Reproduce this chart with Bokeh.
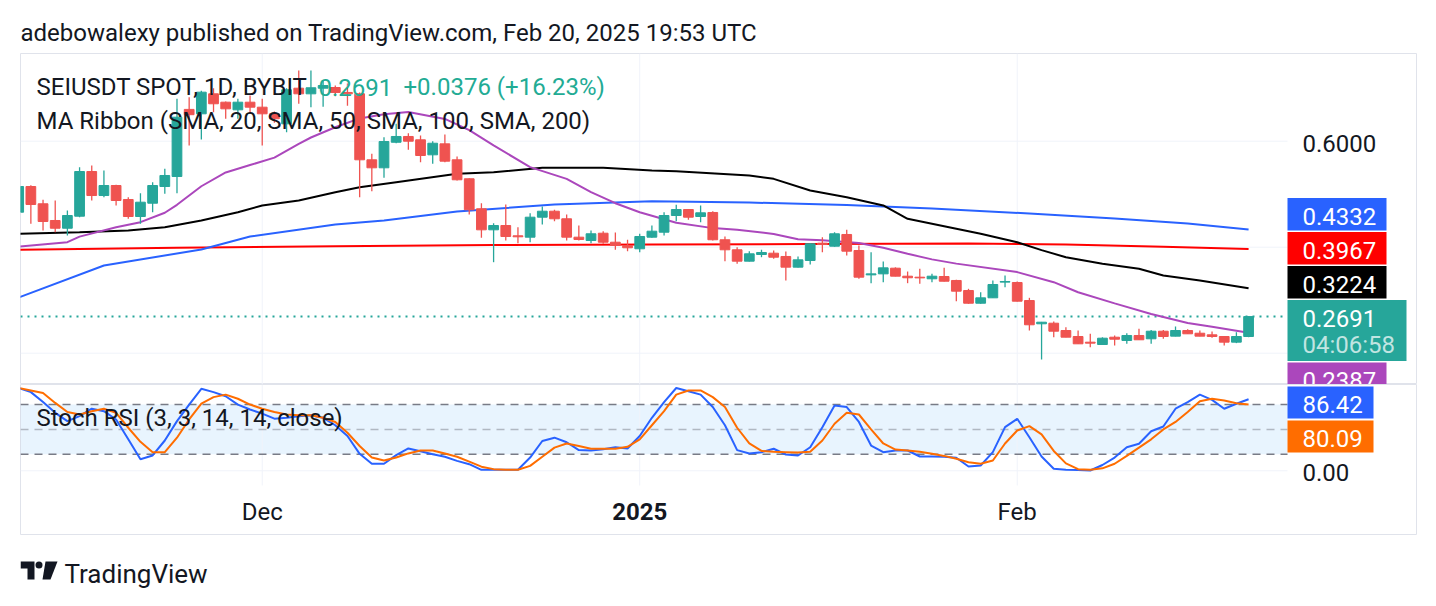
import pandas as pd
from bokeh.plotting import figure
from bokeh.layouts import column
from bokeh.models import Range1d, Label, ColumnDataSource
from bokeh.core.properties import value
from bokeh.embed import file_html
from bokeh.resources import INLINE

# ---------------- texts ----------------
header = "adebowalexy published on TradingView.com, Feb 20, 2025 19:53 UTC"
symbol_title = "SEIUSDT SPOT, 1D, BYBIT"
legend_last = "0.2691"
legend_change = "+0.0376 (+16.23%)"
ribbon_title = "MA Ribbon (SMA, 20, SMA, 50, SMA, 100, SMA, 200)"
stoch_title = "Stoch RSI (3, 3, 14, 14, close)"
countdown = "04:06:58"
brand = "TradingView"

# ---------------- data ----------------
start_date = "2024-11-11"
opens = [
    0.4660, 0.5145, 0.4819, 0.4504, 0.4358, 0.4585, 0.5428, 0.4975, 0.5164, 0.4900,
    0.4579, 0.4830, 0.5145, 0.5334, 0.6600, 0.6517, 0.6894, 0.6736, 0.6592, 0.6736,
    0.6642, 0.6517, 0.6328, 0.7000, 0.6894, 0.7000, 0.7013, 0.6920, 0.6894, 0.5649,
    0.5498, 0.5980, 0.6089, 0.6026, 0.5743, 0.5950, 0.5649, 0.5291, 0.4725, 0.4328,
    0.4409, 0.4215, 0.4189, 0.4566, 0.4679, 0.4536, 0.4189, 0.4126, 0.4264, 0.4094,
    0.4032, 0.3970, 0.4189, 0.4283, 0.4598, 0.4711, 0.4579, 0.4655, 0.4140, 0.3951,
    0.3736, 0.3862, 0.3887, 0.3825, 0.3623, 0.3749, 0.4075, 0.4019, 0.4240, 0.3938,
    0.3478, 0.3497, 0.3604, 0.3453, 0.3434, 0.3404, 0.3447, 0.3372, 0.3183, 0.2943,
    0.3045, 0.3341, 0.3334, 0.2994, 0.2555, 0.2566, 0.2428, 0.2315, 0.2208, 0.2164,
    0.2302, 0.2240, 0.2334, 0.2272, 0.2415, 0.2321, 0.2428, 0.2377, 0.2347, 0.2315,
    0.2208, 0.2315]
highs = [
    0.5180, 0.5170, 0.4894, 0.4881, 0.4692, 0.5509, 0.5542, 0.5447, 0.5180, 0.4943,
    0.5019, 0.5226, 0.5479, 0.6800, 0.6830, 0.6950, 0.7000, 0.6750, 0.6800, 0.6862,
    0.6800, 0.6560, 0.7000, 0.7334, 0.7334, 0.7150, 0.7050, 0.7090, 0.6920, 0.5762,
    0.6075, 0.6328, 0.6151, 0.6108, 0.6000, 0.6126, 0.5711, 0.5300, 0.4830, 0.4453,
    0.4806, 0.4377, 0.4642, 0.4768, 0.4705, 0.4617, 0.4409, 0.4315, 0.4302, 0.4277,
    0.4140, 0.4253, 0.4409, 0.4660, 0.4800, 0.4720, 0.4787, 0.4679, 0.4202, 0.4000,
    0.3925, 0.3951, 0.3937, 0.3919, 0.3825, 0.4075, 0.4189, 0.4283, 0.4328, 0.4032,
    0.3906, 0.3730, 0.3620, 0.3541, 0.3592, 0.3498, 0.3611, 0.3385, 0.3215, 0.3151,
    0.3372, 0.3466, 0.3353, 0.3045, 0.2590, 0.2598, 0.2491, 0.2428, 0.2366, 0.2300,
    0.2334, 0.2377, 0.2460, 0.2440, 0.2440, 0.2504, 0.2450, 0.2428, 0.2409, 0.2318,
    0.2396, 0.2691]
lows = [
    0.4620, 0.4441, 0.4315, 0.4283, 0.4220, 0.4566, 0.4881, 0.4943, 0.4787, 0.4536,
    0.4441, 0.4660, 0.5008, 0.5019, 0.5919, 0.6032, 0.6547, 0.6423, 0.6423, 0.6547,
    0.5919, 0.6350, 0.6170, 0.6706, 0.6642, 0.6650, 0.6850, 0.6670, 0.4943, 0.5057,
    0.5309, 0.5960, 0.5838, 0.5604, 0.5574, 0.5604, 0.5258, 0.4617, 0.4177, 0.3717,
    0.4126, 0.4075, 0.4094, 0.4428, 0.4491, 0.4126, 0.4126, 0.4075, 0.4064, 0.3951,
    0.3925, 0.3906, 0.4180, 0.4220, 0.4491, 0.4517, 0.4472, 0.4126, 0.3736, 0.3687,
    0.3730, 0.3811, 0.3781, 0.3372, 0.3615, 0.3674, 0.3906, 0.4010, 0.3843, 0.3404,
    0.3321, 0.3340, 0.3450, 0.3321, 0.3309, 0.3340, 0.3355, 0.2981, 0.2932, 0.2932,
    0.3040, 0.3245, 0.2975, 0.2428, 0.1881, 0.2302, 0.2300, 0.2175, 0.2113, 0.2160,
    0.2145, 0.2177, 0.2250, 0.2177, 0.2272, 0.2318, 0.2363, 0.2318, 0.2290, 0.2145,
    0.2190, 0.2302]
closes = [
    0.5145, 0.4806, 0.4485, 0.4358, 0.4598, 0.5428, 0.4975, 0.5164, 0.4881, 0.4579,
    0.4849, 0.5164, 0.5353, 0.6453, 0.6500, 0.6925, 0.6706, 0.6611, 0.6736, 0.6642,
    0.6517, 0.6423, 0.6970, 0.6894, 0.7008, 0.7050, 0.6920, 0.6894, 0.5649, 0.5498,
    0.5994, 0.6089, 0.6000, 0.5730, 0.5962, 0.5623, 0.5272, 0.4706, 0.4328, 0.4409,
    0.4202, 0.4196, 0.4566, 0.4679, 0.4536, 0.4189, 0.4145, 0.4253, 0.4094, 0.4032,
    0.3989, 0.4202, 0.4302, 0.4598, 0.4711, 0.4566, 0.4649, 0.4140, 0.3951, 0.3736,
    0.3875, 0.3900, 0.3811, 0.3623, 0.3762, 0.4064, 0.4050, 0.4253, 0.3925, 0.3434,
    0.3497, 0.3611, 0.3453, 0.3423, 0.3421, 0.3453, 0.3358, 0.3170, 0.2943, 0.3045,
    0.3296, 0.3353, 0.2981, 0.2536, 0.2585, 0.2415, 0.2302, 0.2177, 0.2189, 0.2283,
    0.2264, 0.2334, 0.2253, 0.2415, 0.2315, 0.2428, 0.2366, 0.2321, 0.2315, 0.2208,
    0.2315, 0.2691]

sma20_days = [0, 4, 5, 8, 10, 12, 13, 15, 17, 19, 21, 23, 24, 26, 28, 30, 32, 35, 37, 39,
              42, 45, 47, 49, 51, 54, 57, 59, 62, 64, 66, 69, 71, 73, 75, 77, 82, 85, 87, 90,
              93, 96, 98, 101]
sma20 = [0.4013, 0.4094, 0.4200, 0.4377, 0.4472, 0.4650, 0.4800, 0.5150, 0.5410, 0.5550,
         0.5690, 0.5950, 0.6070, 0.6264, 0.6430, 0.6510, 0.6550, 0.6420, 0.6210, 0.5920,
         0.5510, 0.5290, 0.5040, 0.4830, 0.4660, 0.4460, 0.4360, 0.4330, 0.4250, 0.4150,
         0.4130, 0.4080, 0.3990, 0.3875, 0.3770, 0.3690, 0.3530, 0.3340, 0.3150, 0.2940,
         0.2740, 0.2570, 0.2500, 0.2387]
sma50_days = [0, 5, 9, 12, 15, 18, 20, 23, 26, 28, 31, 36, 39, 43, 48, 52, 54, 60, 62, 65,
              68, 71, 73, 77, 79, 82, 84, 86, 89, 92, 94, 97, 101]
sma50 = [0.4253, 0.4283, 0.4315, 0.4377, 0.4504, 0.4660, 0.4787, 0.4881, 0.5038, 0.5132,
         0.5226, 0.5385, 0.5415, 0.5498, 0.5498, 0.5447, 0.5434, 0.5353, 0.5290, 0.5070,
         0.4943, 0.4787, 0.4536, 0.4347, 0.4253, 0.4094, 0.3945, 0.3811, 0.3687, 0.3592,
         0.3466, 0.3372, 0.3224]
sma100_days = [0, 7, 15, 19, 26, 30, 36, 44, 52, 60, 68, 75, 83, 90, 96, 101]
sma100 = [0.3050, 0.3655, 0.3957, 0.4202, 0.4428, 0.4504, 0.4674, 0.4806, 0.4868, 0.4843,
          0.4796, 0.4730, 0.4636, 0.4542, 0.4447, 0.4332]
sma200_days = [0, 13, 26, 39, 52, 65, 78, 86, 94, 101]
sma200 = [0.3950, 0.3990, 0.4020, 0.4040, 0.4050, 0.4060, 0.4070, 0.4050, 0.4010, 0.3967]

# Stoch RSI
stoch_k = [100, 95, 83, 70, 60, 66, 75, 72, 62, 38,
           14, 18.5, 36.6, 60, 80, 99, 95, 90, 80, 74,
           69, 63, 64, 66, 67, 64, 55, 42, 20.5, 8.5,
           8.5, 19, 27, 23.5, 20, 17, 12, 8, 1.2, 1.2,
           1.2, 1.2, 16, 36, 40, 34.5, 25, 24.5, 26, 28.5,
           27, 42, 64, 83, 100, 96, 92, 77, 55, 25,
           21, 22.5, 26.6, 19.7, 18.5, 28.5, 52.7, 79, 77, 59,
           30.5, 22.5, 24.5, 24.5, 17.3, 17.3, 17, 15.7, 5.2, 6.4,
           22.5, 52.7, 62.8, 40.6, 17.3, 2.4, 1.2, 1.0, 0.4, 7,
           16, 28.5, 32.6, 47.8, 53.5, 75, 83, 92, 85.7, 75,
           81, 86.42]
stoch_d = [100, 97, 94, 82, 71, 68, 72, 75, 70, 52,
           35, 22.5, 22.5, 40, 62, 81, 89, 92, 87, 80,
           75, 71, 68, 67, 67, 64, 59, 46, 30, 16,
           12.4, 16, 21, 24.5, 24.5, 21, 17, 11, 5, 2,
           1.2, 1.2, 6, 17, 28, 33, 30, 26.6, 26.6, 26.6,
           29, 38, 55, 72, 92, 97, 97, 89, 77, 52,
           33, 24, 23, 22.5, 22, 23, 36.6, 56.8, 70, 68,
           50, 33, 25.7, 24.5, 23, 20.5, 18, 14.5, 10.4, 8.5,
           12.4, 33, 48.7, 54, 44, 24, 9, 2, 1.2, 3,
           8.5, 18, 28, 38, 50, 59, 71, 84, 87, 85,
           81.5, 80.09]
stoch_levels = [80, 50, 20]

price_ticks = [0.2, 0.4, 0.6]
stoch_ticks = [0]
month_dates = ["2024-12-01", "2025-01-01", "2025-02-01"]
month_labels = ["Dec", "2025", "Feb"]
month_styles = ["normal", "bold", "normal"]

# ---------------- style / layout ----------------
FONT = "Roboto"
FS = "24px"
TXT = "#131722"
UP, DOWN = "#26a69a", "#ef5350"
QUOTE = "#22ab94"
GRID = "#f0f3fa"
BORDER = "#e0e3eb"
C20, C50, C100, C200 = "#ab47bc", "#000000", "#2962ff", "#ff0000"
CK, CD = "#2962ff", "#ff6d00"

W = 1436
FL, FR = 20, 1416            # chart box, page px
PANE_R = 1287                # right edge of the panes
SCALE_X = 1302               # price-scale text start
A_TOP, A_BOT = 53, 384       # price pane
B_BOT = 535                  # bottom of chart box
PANE_B_BOT = 485             # bottom of the oscillator pane
PAGE_H = 605
LABEL_HALF = 12

dates = pd.date_range(start_date, periods=len(opens), freq="D")
day = list(range(len(opens)))
month_ticks = [int(dates.get_loc(pd.Timestamp(d))) for d in month_dates]

xr = Range1d(0.149, 114.79)
yA = Range1d(0.14094, 0.76547)
yB = Range1d(-78.14, 104.23)
FA = A_BOT - A_TOP
FB = B_BOT - A_BOT


def fx(px_):
    return xr.start + (px_ - FL) / (FR - FL) * (xr.end - xr.start)


def fy(py, rng, top, bot):
    return rng.end - (py - top) / (bot - top) * (rng.end - rng.start)


def up_px(v, rng, fh):          # data -> px above the frame bottom
    return (v - rng.start) / (rng.end - rng.start) * fh


def from_up(p, rng, fh):        # px above the frame bottom -> data
    return rng.start + p / fh * (rng.end - rng.start)


def new_fig(h, yr, top):
    p = figure(width=W, height=h, x_range=xr, y_range=yr, x_axis_location=None,
               y_axis_location=None, output_backend="svg", toolbar_location=None,
               min_border_left=FL, min_border_right=W - FR, min_border_top=top,
               min_border_bottom=0, background_fill_color="white",
               border_fill_color="white", outline_line_color=BORDER, outline_line_width=1)
    p.grid.visible = False
    return p


def screen_label(p, x, y, text, color=TXT):
    p.add_layout(Label(x=x, y=y, x_units="screen", y_units="screen", text=text,
                       text_font=FONT, text_font_size=FS, text_color=color,
                       text_baseline="middle", text_align="left"))


def stack(items, anchor=None, top_limit=None, gap=1.5):
    for it in items:
        it["p"] = it["v"]
    if anchor is not None:
        above = sorted([i for i in items if i is not anchor and i["v"] >= anchor["v"]],
                       key=lambda i: i["v"])
        below = sorted([i for i in items if i is not anchor and i["v"] < anchor["v"]],
                       key=lambda i: -i["v"])
        prev_top = anchor["p"] + anchor["a"]
        for it in above:
            if it["p"] - it["b"] < prev_top + gap:
                it["p"] = prev_top + gap + it["b"]
            prev_top = it["p"] + it["a"]
        prev_bot = anchor["p"] - anchor["b"]
    else:
        below = sorted(items, key=lambda i: -i["v"])
        prev_bot = top_limit + gap
    for it in below:
        if it["p"] + it["a"] > prev_bot - gap:
            it["p"] = prev_bot - gap - it["a"]
        prev_bot = it["p"] - it["b"]


def badges(p, items, rng, fh):
    p.quad(left=fx(PANE_R), right=[fx(PANE_R + it["w"]) for it in items],
           top=[from_up(it["p"] + it["a"], rng, fh) for it in items],
           bottom=[from_up(it["p"] - it["b"], rng, fh) for it in items],
           fill_color=[it["col"] for it in items], line_color=None)


def badge_texts(p, items, rng, fh):
    p.text(x=fx(SCALE_X), y=[from_up(it["p"], rng, fh) for it in items],
           text=[it["text"] for it in items], text_font=value(FONT), text_font_size=FS,
           text_color="white", text_baseline="middle", text_align="left", y_offset=2)


def scale_labels(p, ticks, fmt, items, rng, fh):
    # like the price scale: a tick label hidden by a badge is not shown
    shown = [t for t in ticks
             if not any(it["p"] - it["b"] - LABEL_HALF < up_px(t, rng, fh) < it["p"] + it["a"] + LABEL_HALF
                        for it in items)]
    p.text(x=fx(SCALE_X), y=shown, text=[fmt % t for t in shown],
           text_font=value(FONT), text_font_size=FS, text_color=TXT,
           text_baseline="middle", text_align="left", y_offset=2)


pane_x0, pane_x1 = xr.start, fx(PANE_R)

# ---------------- price pane ----------------
pA = new_fig(A_BOT, yA, A_TOP)
pA.title.text = header
pA.title.text_font = FONT
pA.title.text_font_size = FS
pA.title.text_font_style = "normal"
pA.title.text_color = TXT
pA.title.align = "left"
pA.title.standoff = 14

pitems = [dict(v=up_px(vals[-1], yA, FA), a=16.25, b=16.25, col=col,
               text=f"{vals[-1]:.4f}", w=99)
          for vals, col in [(sma100, C100), (sma200, C200), (sma50, C50), (sma20, C20)]]
panchor = dict(v=up_px(closes[-1], yA, FA), a=16.7, b=44.3, col=UP,
               text=f"{closes[-1]:.4f}", w=119)
stack(pitems + [panchor], anchor=panchor)

# grid
pA.segment(x0=pane_x0, y0=price_ticks, x1=pane_x1, y1=price_ticks, line_color=GRID, line_width=1)
pA.segment(x0=month_ticks, y0=yA.start, x1=month_ticks, y1=yA.end, line_color=GRID, line_width=1)
scale_labels(pA, price_ticks, "%.4f", pitems + [panchor], yA, FA)
# last price line
pA.segment(x0=pane_x0, y0=closes[-1], x1=pane_x1, y1=closes[-1], line_color=UP,
           line_width=2, line_dash="2 5")

src = ColumnDataSource(dict(
    x=day, h=highs, l=lows,
    top=[max(o, c) for o, c in zip(opens, closes)],
    bottom=[min(o, c) for o, c in zip(opens, closes)],
    color=[UP if c >= o else DOWN for o, c in zip(opens, closes)]))

pA.line(sma200_days, sma200, line_color=C200, line_width=2)
pA.line(sma100_days, sma100, line_color=C100, line_width=2)
pA.line(sma50_days, sma50, line_color=C50, line_width=2)
pA.line(sma20_days, sma20, line_color=C20, line_width=2)
pA.segment(x0="x", y0="h", x1="x", y1="l", line_color="color", line_width=1.3, source=src)
pA.vbar(x="x", width=0.8, top="top", bottom="bottom", fill_color="color",
        line_color="color", line_width=1, source=src)

screen_label(pA, 16, A_BOT - 86.5, symbol_title)
screen_label(pA, 298, A_BOT - 86.5, legend_last, color=QUOTE)
screen_label(pA, 383, A_BOT - 86.5, legend_change, color=QUOTE)
screen_label(pA, 16, A_BOT - 120.5, ribbon_title)

badges(pA, pitems + [panchor], yA, FA)
badge_texts(pA, pitems + [panchor], yA, FA)
pA.text(x=fx(SCALE_X), y=from_up(panchor["p"] - 26, yA, FA), text=[countdown],
        text_font=value(FONT), text_font_size=FS, text_color="white", text_alpha=0.72,
        text_baseline="middle", text_align="left", y_offset=2)

# ---------------- oscillator pane ----------------
pB = new_fig(FB, yB, 0)
pane_y0 = fy(PANE_B_BOT, yB, A_BOT, B_BOT)

sitems = [dict(v=up_px(stoch_k[-1], yB, FB), a=16, b=16, col=CK, text=f"{stoch_k[-1]:.2f}", w=86),
          dict(v=up_px(stoch_d[-1], yB, FB), a=16, b=16, col=CD, text=f"{stoch_d[-1]:.2f}", w=86)]
stack(sitems, top_limit=FB - 2, gap=2)

pB.quad(left=pane_x0, right=pane_x1, bottom=stoch_levels[2], top=stoch_levels[0],
        fill_color="#2196f3", fill_alpha=0.1, line_color=None)
pB.segment(x0=pane_x0, y0=stoch_ticks, x1=pane_x1, y1=stoch_ticks, line_color=GRID, line_width=1)
pB.segment(x0=month_ticks, y0=pane_y0, x1=month_ticks, y1=yB.end, line_color=GRID, line_width=1)
for lv in stoch_levels:
    pB.segment(x0=pane_x0, y0=lv, x1=pane_x1, y1=lv, line_color="#787b86",
               line_alpha=0.5 if lv == 50 else 1.0, line_width=1.5, line_dash="8 6")
scale_labels(pB, stoch_ticks, "%.2f", sitems, yB, FB)
tsrc = ColumnDataSource(dict(x=month_ticks, y=[fy(509, yB, A_BOT, B_BOT)] * len(month_ticks),
                             text=month_labels, style=month_styles))
pB.text(x="x", y="y", text="text", text_font_style="style", source=tsrc,
        text_font=value(FONT), text_font_size=FS, text_color=TXT,
        text_baseline="middle", text_align="center", y_offset=2)

pB.line(day, stoch_k, line_color=CK, line_width=2)
pB.line(day, stoch_d, line_color=CD, line_width=2)
screen_label(pB, 16, B_BOT - 417.5, stoch_title)

badges(pB, sitems, yB, FB)
badge_texts(pB, sitems, yB, FB)

# ---------------- footer ----------------
pC = figure(width=W, height=PAGE_H - B_BOT, x_range=Range1d(FL, FR),
            y_range=Range1d(PAGE_H, B_BOT), x_axis_location=None, y_axis_location=None,
            output_backend="svg", toolbar_location=None, min_border_left=FL,
            min_border_right=W - FR, min_border_top=0, min_border_bottom=0,
            outline_line_color=None, background_fill_color="white", border_fill_color="white")
pC.grid.visible = False
logo_xs = [[20, 34, 34, 27, 27, 20], [45, 57, 50, 42]]
logo_ys = [[561, 561, 579, 579, 568, 568], [561, 561, 579, 579]]
pC.patches(logo_xs, logo_ys, fill_color=TXT, line_color=None)
pC.scatter(x=[38.5], y=[564.5], size=7, fill_color=TXT, line_color=None)
pC.text(x=[64], y=[571], text=[brand], text_font=value(FONT), text_font_size="26px",
        text_color=TXT, text_baseline="middle", text_align="left", y_offset=2)

layout = column(pA, pB, pC)
open("out.html", "w").write(file_html(layout, INLINE))
